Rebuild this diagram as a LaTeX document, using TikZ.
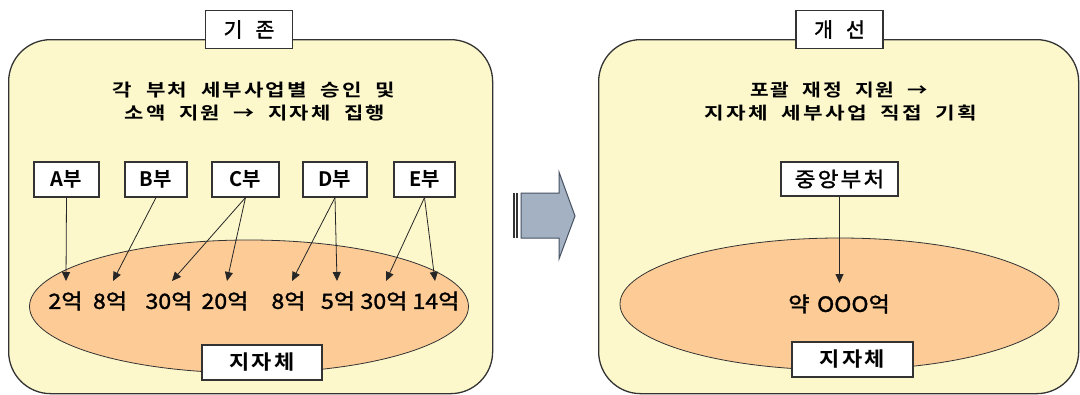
\documentclass[tikz,border=0pt]{standalone}
\usepackage{fontspec}
\usetikzlibrary{arrows.meta,shapes.geometric}
% Korean faces: a bold one for headings and box labels, a slightly heavier regular one elsewhere
\newfontfamily\krb{Noto Sans CJK KR Bold}
\newfontfamily\krm{Noto Sans CJK KR}[FakeBold=1.5]
% a little tracking between Hangul syllables
\newXeTeXintercharclass\krclass
\newcount\krcnt
\krcnt="AC00
\loop
  \XeTeXcharclass\krcnt=\krclass
  \advance\krcnt by 1
\ifnum\krcnt<"D7A4 \repeat
\XeTeXinterchartoks\krclass\krclass={\kern2pt\relax}
\XeTeXinterchartokenstate=1
% widened lettering, word gap, and a heading line set to a given width
\newcommand\krwide[1]{\scalebox{1.1}[1]{#1}}
\newcommand\krgap{\hspace{13pt}}
\newcommand\krline[2]{\resizebox{#1}{14.5pt}{#2}}
\definecolor{panelfill}{HTML}{FCF8CC}
\definecolor{poolfill}{HTML}{FCCB96}
\definecolor{arrowfill}{HTML}{A3B1C3}
\definecolor{arrowline}{HTML}{465263}
\definecolor{edge}{HTML}{333333}
\begin{document}
\begin{tikzpicture}[x=1pt,y=-1pt,
  panel/.style={draw=edge,line width=1.3pt,fill=panelfill,rounded corners=42pt,
    minimum width=#1,minimum height=354,anchor=north west,inner sep=0pt},
  pool/.style={ellipse,draw=edge,line width=0.8pt,fill=poolfill,inner sep=0pt},
  labelbox/.style={draw=edge,line width=1.1pt,fill=white,inner sep=0pt,
    font=\krm\fontsize{20.5}{22}\selectfont},
  boldbox/.style={labelbox,font=\krb\fontsize{20}{22}\selectfont},
  heading/.style={inner sep=0pt,font=\krb\fontsize{20}{23}\selectfont},
  amount/.style={inner sep=0pt,font=\krm\fontsize{21}{22}\selectfont},
  flow/.style={draw=black!85,line width=0.8pt,-{Triangle[length=9pt,width=8pt]}},
  bigarrow/.style={draw=arrowline,line width=1pt,fill=arrowfill,line join=miter}]
\useasboundingbox[fill=white] (0,0) rectangle (1080,394);

% ---- current scheme (left) ----
\node[panel=484] (oldpanel) at (8,39) {};
\node[labelbox,minimum width=87,minimum height=38] (oldtitle) at (249,29.5) {기\hspace{13pt}존};
\node[heading] (oldtext1) at (254,90)
  {\krline{282pt}{각\krgap 부처\krgap 세부사업별\krgap 승인\krgap 및}};
\node[heading] (oldtext2) at (255,113)
  {\krline{260pt}{소액\krgap 지원\krgap →\krgap 지자체\krgap 집행}};

\node[pool,minimum width=439,minimum height=133] (oldpool) at (249,306.5) {};

\node[boldbox,minimum width=65,minimum height=35] (depA) at (66.5,179.5) {A부};
\node[boldbox,minimum width=62,minimum height=35] (depB) at (156,179.5) {B부};
\node[boldbox,minimum width=67,minimum height=35] (depC) at (245.5,179.5) {C부};
\node[boldbox,minimum width=64,minimum height=35] (depD) at (335,179.5) {D부};
\node[boldbox,minimum width=61,minimum height=35] (depE) at (424.5,179.5) {E부};

\node[amount] (m1) at (65.5,301) {\krwide{2억}};
\node[amount] (m2) at (110,301) {\krwide{8억}};
\node[amount] (m3) at (169,301) {\krwide{30억}};
\node[amount] (m4) at (225,301) {\krwide{20억}};
\node[amount] (m5) at (288.5,301) {\krwide{8억}};
\node[amount] (m6) at (338,301) {\krwide{5억}};
\node[amount] (m7) at (384,301) {\krwide{30억}};
\node[amount] (m8) at (436,301) {\krwide{14억}};

\coordinate (t1) at (66,281);
\coordinate (t2) at (113,281);
\coordinate (t3) at (172,281);
\coordinate (t4) at (227,281);
\coordinate (t5) at (292,281);
\coordinate (t6) at (337,281);
\coordinate (t7) at (386,281);
\coordinate (t8) at (435,281);

\draw[flow] (depA.south) -- (t1);
\draw[flow] (depB.south) -- (t2);
\draw[flow] (depC.south) -- (t3);
\draw[flow] (depC.south) -- (t4);
\draw[flow] (depD.south) -- (t5);
\draw[flow] (depD.south) -- (t6);
\draw[flow] (depE.south) -- (t7);
\draw[flow] (depE.south) -- (t8);

\node[boldbox,minimum width=120,minimum height=35] (oldlocal) at (262,362.5) {\krwide{지자체}};

% ---- transition arrow ----
\draw[bigarrow] (521,193) -- (559,193) -- (559,172) -- (575,216) -- (559,259)
  -- (559,238) -- (521,238) -- cycle;
\draw[line width=2pt,draw=black!80] (513.5,193) -- (513.5,238);
\draw[line width=1.2pt,draw=black!80] (517,193) -- (517,238);

% ---- improved scheme (right) ----
\node[panel=480] (newpanel) at (598,39) {};
\node[labelbox,minimum width=87,minimum height=38] (newtitle) at (839.5,29.5) {개\hspace{13pt}선};
\node[heading] (newtext1) at (839,90)
  {\krline{178pt}{포괄\krgap 재정\krgap 지원\krgap →}};
\node[heading] (newtext2) at (841,113)
  {\krline{272pt}{지자체\krgap 세부사업\krgap 직접\krgap 기획}};

\node[pool,minimum width=439,minimum height=132] (newpool) at (839.5,304) {};
\node[labelbox,minimum width=117,minimum height=34] (central) at (839.5,179) {\krwide{중앙부처}};
\node[amount] (total) at (839,304) {\krwide{약\hspace{7pt}OOO억}};
\coordinate (tc) at (839.5,283);
\draw[flow] (central.south) -- (tc);
\node[boldbox,minimum width=121,minimum height=35] (newlocal) at (852.5,359.5) {\krwide{지자체}};
\end{tikzpicture}
\end{document}
